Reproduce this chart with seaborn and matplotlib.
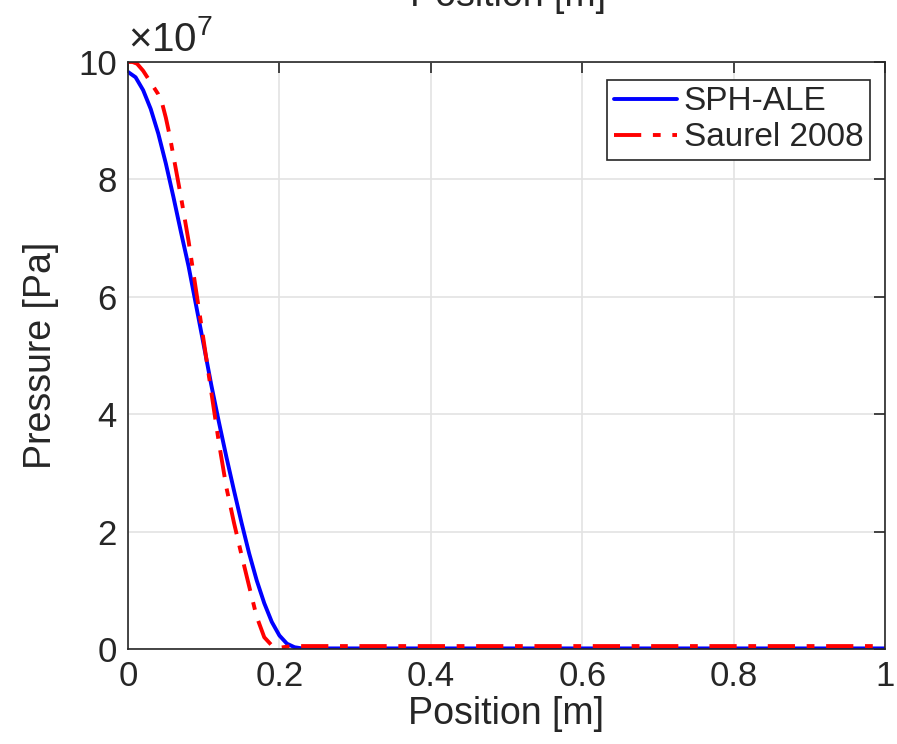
import numpy as np
import pandas as pd
import matplotlib
matplotlib.use("Agg")
import matplotlib.pyplot as plt
import seaborn as sns

# data (pressure in units of 1e7 Pa)
sph_x = [0.0, 0.01, 0.02, 0.03, 0.04, 0.05, 0.06, 0.07, 0.08, 0.09, 0.10,
         0.11, 0.12, 0.13, 0.14, 0.15, 0.16, 0.17, 0.18, 0.19, 0.20, 0.21,
         0.22, 0.23, 1.0]
sph_p = [9.83, 9.74, 9.52, 9.2, 8.78, 8.27, 7.7, 7.1, 6.52, 5.85, 5.18,
         4.5, 3.87, 3.27, 2.7, 2.15, 1.63, 1.17, 0.78, 0.46, 0.23, 0.09,
         0.03, 0.01, 0.01]

saurel_x = [0.0, 0.006, 0.012, 0.02, 0.03, 0.04, 0.045, 0.05, 0.055, 0.06,
            0.07, 0.08, 0.09, 0.10, 0.11, 0.12, 0.13, 0.14, 0.15, 0.16,
            0.17, 0.18, 0.19, 0.20, 0.21, 0.22, 1.0]
saurel_p = [10.0, 10.0, 9.97, 9.85, 9.65, 9.45, 9.3, 9.05, 8.75, 8.4,
            7.7, 6.95, 6.1, 5.25, 4.38, 3.52, 2.75, 2.15, 1.6, 1.07,
            0.55, 0.2, 0.06, 0.02, 0.04, 0.05, 0.05]

y_ticks = [0, 2, 4, 6, 8, 10]
x_ticks = [0, 0.2, 0.4, 0.6, 0.8, 1.0]
x_labels = ["0", "0.2", "0.4", "0.6", "0.8", "1"]

sph = pd.DataFrame({"x": sph_x, "p": sph_p})
saurel = pd.DataFrame({"x": saurel_x, "p": saurel_p})

sns.set_style("whitegrid")
plt.rcParams["font.family"] = ["Liberation Sans", "DejaVu Sans"]
plt.rcParams["mathtext.fontset"] = "custom"
plt.rcParams["mathtext.rm"] = "Liberation Sans"

fig = plt.figure(figsize=(8.97, 7.44), dpi=100)
ax = fig.add_axes([0.1427, 0.1277, 0.8439, 0.789])

sns.lineplot(data=sph, x="x", y="p", ax=ax, color="#0000ff", lw=2.8,
             label="SPH-ALE")
sns.lineplot(data=saurel, x="x", y="p", ax=ax, color="#ff0000", lw=2.8,
             label="Saurel 2008")
ax.lines[1].set_dashes([7, 3, 2, 3])

ax.set_xlim(0, 1)
ax.set_ylim(0, 10)
ax.set_xticks(x_ticks)
ax.set_xticklabels(x_labels)
ax.set_yticks(y_ticks)
ax.set_yticklabels([str(t) for t in y_ticks])

ax.text(0.0, 1.005, r"$\times10^{7}$", transform=ax.transAxes, fontsize=29,
        color="#262626", ha="left", va="bottom")

ax.grid(True, color="#e3e3e3", lw=1.2)
for s in ax.spines.values():
    s.set_color("#262626")
    s.set_linewidth(1.2)
ax.tick_params(axis="both", which="both", direction="in", length=8, width=1.2,
               color="#262626", labelsize=25, labelcolor="#262626",
               top=True, right=True, pad=8)

ax.set_xlabel("Position [m]", fontsize=27, color="#262626", labelpad=2)
ax.set_ylabel("Pressure [Pa]", fontsize=27, color="#262626", labelpad=14)

# clipped top label, as in the reference
fig.text(0.566, 0.992, "Position [m]", fontsize=27, color="#262626",
         ha="center", va="baseline")

leg = ax.legend(loc="upper right", bbox_to_anchor=(0.98, 0.97), fontsize=24,
                frameon=True, fancybox=False, framealpha=1, edgecolor="#262626",
                handlelength=1.9, handletextpad=0.2, borderpad=0.2,
                labelspacing=0.15, borderaxespad=0)
leg.get_frame().set_linewidth(1.2)
for h in leg.get_lines():
    h.set_linewidth(2.8)
leg.get_lines()[1].set_dashes([7, 3, 2, 3])

fig.savefig("out.png", dpi=100)
